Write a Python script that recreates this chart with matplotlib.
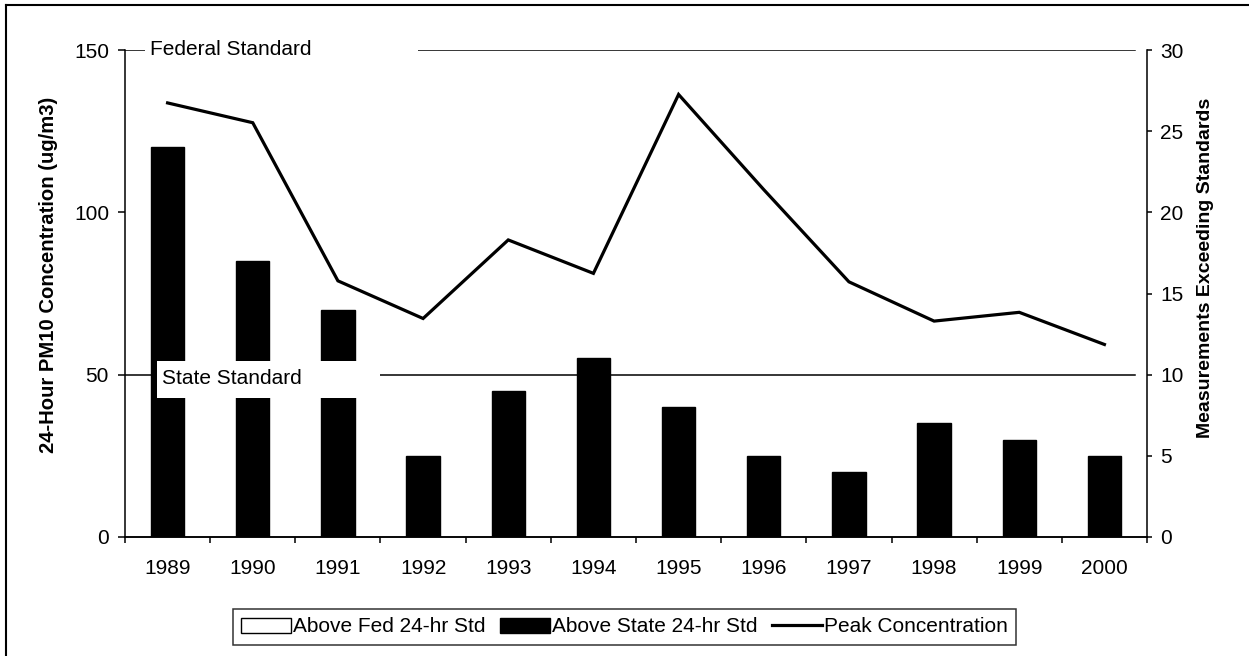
import matplotlib
matplotlib.use('Agg')
import matplotlib.pyplot as plt
import numpy as np
from matplotlib.lines import Line2D
from matplotlib.patches import Rectangle, Patch

plt.rcParams['font.family'] = ['Liberation Sans', 'DejaVu Sans']

years = ['1989', '1990', '1991', '1992', '1993', '1994',
         '1995', '1996', '1997', '1998', '1999', '2000']
# measurements above each standard (right axis)
above_fed = [0, 0, 0, 0, 0, 0, 0, 0, 0, 0, 0, 0]
above_state = [24, 17, 14, 5, 9, 11, 8, 5, 4, 7, 6, 5]
# peak 24-hour PM10 concentration, ug/m3 (left axis)
peak_conc = [133.7, 127.6, 78.9, 67.3, 91.5, 81.2, 136.3, 107, 78.6, 66.5, 69.2, 59.3]

fed_std = 150
state_std = 50

FS = 15

W, H = 1249, 656
fig = plt.figure(figsize=(W / 100, H / 100), dpi=100)
ax = fig.add_axes([125 / W, 1 - 537 / H, (1147 - 125) / W, (537 - 50) / H])
ax2 = ax.twinx()

# line and standards sit on top of the bars
ax.set_zorder(ax2.get_zorder() + 1)
ax.patch.set_visible(False)

x = np.arange(len(years))
ax2.bar(x, above_fed, width=0.39, color='white', edgecolor='black', linewidth=1)
ax2.bar(x, above_state, bottom=above_fed, width=0.39, color='black', edgecolor='black', linewidth=1)
ax.plot(x, peak_conc, color='black', lw=2.3, solid_joinstyle='miter')

# standards with their labels on white boxes
ax.axhline(fed_std, xmin=0, xmax=0.988, color='black', lw=1.1, zorder=3)
ax.axhline(state_std, xmin=0, xmax=0.988, color='black', lw=1.1, zorder=3)
tr = ax.get_yaxis_transform()
ax.add_patch(Rectangle((0.0196, fed_std - 5.7), 0.267, 11.4, transform=tr,
                       facecolor='white', edgecolor='none', zorder=4, clip_on=False))
ax.add_patch(Rectangle((0.0313, state_std - 7.3), 0.2182, 11.4, transform=tr,
                       facecolor='white', edgecolor='none', zorder=4, clip_on=False))
ax.text(0.0245, fed_std + 0.3, 'Federal Standard', transform=tr, fontsize=FS,
        va='center', ha='left', zorder=5)
ax.text(0.0362, state_std - 1.3, 'State Standard', transform=tr, fontsize=FS,
        va='center', ha='left', zorder=5)

ax.set_xlim(-0.5, 11.5)
ax.set_ylim(0, 150)
ax2.set_ylim(0, 30)
ax.set_yticks([0, 50, 100, 150])
ax2.set_yticks([0, 5, 10, 15, 20, 25, 30])

ax.set_xticks(x)
ax.set_xticklabels(years)
ax.set_xticks(np.arange(-0.5, 12, 1), minor=True)
ax.tick_params(axis='x', which='major', length=0, pad=16, labelsize=FS)
ax.tick_params(axis='x', which='minor', length=4.5, width=1.1, direction='out')
ax.tick_params(axis='y', length=5, width=1.1, pad=6.5, labelsize=FS)
ax2.tick_params(axis='y', length=3.6, width=1.1, pad=6, labelsize=FS)

for a in (ax, ax2):
    a.spines['top'].set_visible(False)
    for s in ('left', 'right', 'bottom'):
        a.spines[s].set_linewidth(1.1)
ax.spines['right'].set_visible(False)
ax2.spines['left'].set_visible(False)

ax.set_ylabel('24-Hour PM10 Concentration (ug/m3)', fontsize=14.6, fontweight='bold')
ax.yaxis.set_label_coords(-0.0656, 0.538)
ax2.set_ylabel('Measurements Exceeding Standards', fontsize=14, fontweight='bold',
               rotation=90)
ax2.yaxis.set_label_coords(1.049, 0.552)

handles = [Patch(facecolor='white', edgecolor='black', linewidth=1),
           Patch(facecolor='black', edgecolor='black'),
           Line2D([], [], color='black', lw=2.3)]
labels = ['Above Fed 24-hr Std', 'Above State 24-hr Std', 'Peak Concentration']
leg = fig.legend(handles, labels, loc='center', bbox_to_anchor=(0.5, 1 - 627 / H),
                 ncol=3, fontsize=FS, frameon=True, fancybox=False, edgecolor='black',
                 handlelength=2.4, handletextpad=0.1, columnspacing=0.7,
                 borderpad=0.4, borderaxespad=0)
leg.get_frame().set_linewidth(1.1)

# outer frame
fig.add_artist(Line2D([6 / W, 6 / W], [0, 1 - 5 / H], transform=fig.transFigure,
                      color='black', lw=1.5))
fig.add_artist(Line2D([6 / W, 1], [1 - 5 / H, 1 - 5 / H], transform=fig.transFigure,
                      color='black', lw=1.5))

fig.savefig('out.png', dpi=100)
